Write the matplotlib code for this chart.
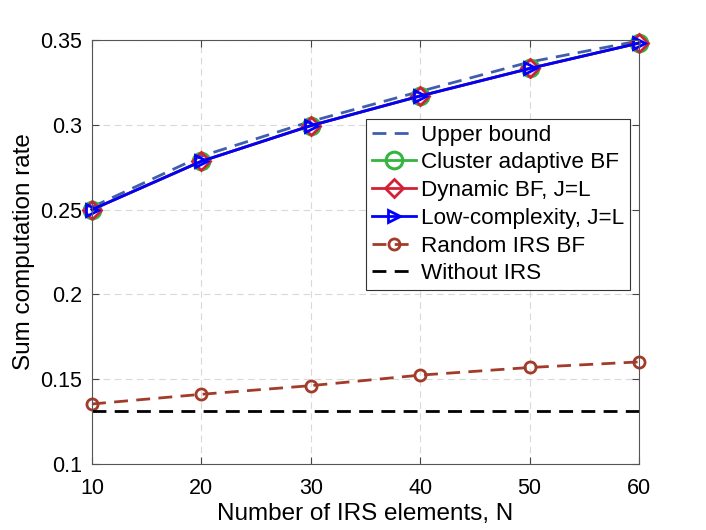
import matplotlib
matplotlib.use("Agg")
import matplotlib.pyplot as plt

plt.rcParams['font.family'] = ['Liberation Sans', 'DejaVu Sans']

N = [10, 20, 30, 40, 50, 60]
upper = [0.2515, 0.2815, 0.3020, 0.3197, 0.3370, 0.3495]
cluster = [0.2500, 0.2785, 0.2995, 0.3170, 0.3332, 0.3482]
dynamic = [0.2500, 0.2785, 0.2995, 0.3170, 0.3332, 0.3482]
lowc = [0.2500, 0.2785, 0.2995, 0.3170, 0.3332, 0.3482]
random_bf = [0.1354, 0.1411, 0.1462, 0.1524, 0.1569, 0.1602]
no_irs = [0.1313] * 6

fig = plt.figure(figsize=(7.06, 5.30), dpi=100)
# axes box: x 92..639 px, y 40..464 px
ax = fig.add_axes([92 / 706, 1 - 464 / 530, 547 / 706, 424 / 530])

ax.plot(N, upper, '--', color='#3f5fae', lw=2, dashes=(5, 3), label='Upper bound',
        clip_on=False)
ax.plot(N, cluster, '-o', color='#33b540', lw=2, ms=12, mfc='none', mew=2.2,
        label='Cluster adaptive BF', clip_on=False)
ax.plot(N, dynamic, '-D', color='#d42037', lw=2, ms=9.5, mfc='none', mew=2,
        label='Dynamic BF, J=L', clip_on=False)
ax.plot(N, lowc, '->', color='#0000ff', lw=2, ms=9, mfc='none', mew=2,
        label='Low-complexity, J=L', clip_on=False)
ax.plot(N, random_bf, '--o', color='#a23b2a', lw=2, dashes=(5, 3), ms=8,
        mfc='none', mew=2, label='Random IRS BF', clip_on=False)
ax.plot(N, no_irs, '--', color='black', lw=2, dashes=(5, 3), label='Without IRS',
        clip_on=False)

ax.set_xlim(10, 60)
ax.set_ylim(0.1, 0.35)
ax.set_xticks(N)
ax.set_yticks([0.1, 0.15, 0.2, 0.25, 0.3, 0.35])
ax.set_yticklabels(['0.1', '0.15', '0.2', '0.25', '0.3', '0.35'])
ax.grid(True, ls=(0, (6, 4)), color='#d9d9d9', lw=0.8)
ax.tick_params(labelsize=15.5, direction='in', length=5, color='#444444',
               top=True, right=True)
ax.tick_params(axis='x', pad=10)
ax.tick_params(axis='y', pad=7)
for s in ax.spines.values():
    s.set_color('#555555')
    s.set_linewidth(0.8)

ax.set_xlabel('Number of IRS elements, N', fontsize=17.5, labelpad=3)
ax.set_ylabel('Sum computation rate', fontsize=17.5, labelpad=4)

leg = ax.legend(loc='upper right', bbox_to_anchor=(0.9835, 0.8137), fontsize=16.2,
                fancybox=False, edgecolor='#333333', framealpha=1,
                handlelength=1.95, handletextpad=0.25, borderpad=0.25,
                labelspacing=0.3, borderaxespad=0)
leg.get_frame().set_linewidth(0.8)

fig.savefig('out.png', dpi=100)
